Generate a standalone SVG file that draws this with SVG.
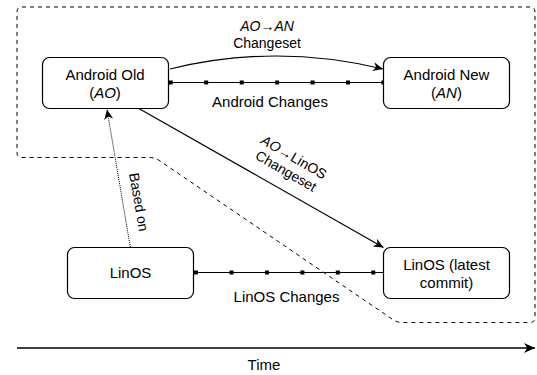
<svg xmlns="http://www.w3.org/2000/svg" xmlns:xlink="http://www.w3.org/1999/xlink" width="537" height="375" viewBox="0 0 537 375">
<style>
text{font-family:"Liberation Sans",Arial,sans-serif;fill:#000}
.node{fill:#fff;stroke:#000;stroke-width:1.2}
.lbl{font-size:15px;text-anchor:middle}
.el{font-size:14px;text-anchor:middle}
.it{font-style:italic}
.edge{fill:none;stroke:#000;stroke-width:1.2}
</style>
<defs>
<marker id="arr" viewBox="0 0 10 10" refX="10" refY="5" markerWidth="10" markerHeight="10" markerUnits="userSpaceOnUse" orient="auto">
<path d="M0,0.5 L10,5 L0,9.5 L3,5 Z" fill="#000"/>
</marker>
<marker id="arrBig" viewBox="0 0 10 10" refX="10" refY="5" markerWidth="11" markerHeight="11" markerUnits="userSpaceOnUse" orient="auto">
<path d="M0,0.5 L10,5 L0,9.5 L3,5 Z" fill="#000"/>
</marker>
<rect id="sq" x="-2" y="-2" width="4" height="4" fill="#000"/>
</defs>

<g id="boundary">
<path d="M22,7 H530 Q535,7 535,12 V317.5 Q535,322.5 530,322.5 H402 Q397,322.5 393,319.7 L159,160.3 Q155,157.5 150,157.5 H22 Q17,157.5 17,152.5 V12 Q17,7 22,7 Z" fill="none" stroke="#000" stroke-width="1" stroke-dasharray="4 4"/>
</g>

<g id="connectors">
<path class="edge" d="M170,69 Q276,43 383,69" marker-end="url(#arr)"/>
<path class="edge" d="M138,108 L383.5,247.5" marker-end="url(#arr)"/>
<path d="M130.3,247 L107,109.5" fill="none" stroke="#000" stroke-width="1" stroke-dasharray="1 1" marker-end="url(#arr)"/>
<g id="android-changes">
<line class="edge" x1="168" y1="82.5" x2="383" y2="82.5"/>
<use xlink:href="#sq" x="170.7" y="82.5"/>
<use xlink:href="#sq" x="206.2" y="82.5"/>
<use xlink:href="#sq" x="241.7" y="82.5"/>
<use xlink:href="#sq" x="277.1" y="82.5"/>
<use xlink:href="#sq" x="312.6" y="82.5"/>
<use xlink:href="#sq" x="348" y="82.5"/>
<use xlink:href="#sq" x="383.4" y="82.5"/>
</g>
<g id="linos-changes">
<line class="edge" x1="193" y1="272.5" x2="383" y2="272.5"/>
<use xlink:href="#sq" x="196" y="272.5"/>
<use xlink:href="#sq" x="231.5" y="272.5"/>
<use xlink:href="#sq" x="267" y="272.5"/>
<use xlink:href="#sq" x="302.4" y="272.5"/>
<use xlink:href="#sq" x="337.8" y="272.5"/>
<use xlink:href="#sq" x="373.3" y="272.5"/>
</g>
<line x1="17" y1="348" x2="535" y2="348" stroke="#000" stroke-width="1.3" marker-end="url(#arrBig)"/>
</g>

<g id="edge-labels">
<text class="el" x="267" y="31"><tspan class="it">AO</tspan>→<tspan class="it">AN</tspan></text>
<text class="el" x="267" y="48">Changeset</text>
<text class="lbl" x="270" y="107">Android Changes</text>
<text class="lbl" x="286.5" y="302">LinOS Changes</text>
<g transform="translate(290,164) rotate(30)">
<text class="el" x="0" y="-3"><tspan class="it">AO</tspan>→LinOS</text>
<text class="el" x="0" y="13">Changeset</text>
</g>
<text class="el" transform="translate(139,202) rotate(80)" x="0" y="5">Based on</text>
<text class="lbl" x="264" y="370">Time</text>
</g>

<g id="android-old">
<rect class="node" x="42.5" y="57.5" width="126" height="51" rx="7"/>
<text class="lbl" x="105" y="80">Android Old</text>
<text class="lbl" x="105" y="97.5">(<tspan class="it">AO</tspan>)</text>
</g>
<g id="android-new">
<rect class="node" x="383.5" y="57.5" width="126" height="51" rx="7"/>
<text class="lbl" x="446.5" y="80">Android New</text>
<text class="lbl" x="446.5" y="97.5">(<tspan class="it">AN</tspan>)</text>
</g>
<g id="linos">
<rect class="node" x="67.5" y="247.5" width="126" height="51" rx="7"/>
<text class="lbl" x="130.5" y="278">LinOS</text>
</g>
<g id="linos-latest">
<rect class="node" x="383.5" y="247.5" width="126" height="51" rx="7"/>
<text class="lbl" x="446.5" y="270">LinOS (latest</text>
<text class="lbl" x="446.5" y="287.5">commit)</text>
</g>
</svg>
